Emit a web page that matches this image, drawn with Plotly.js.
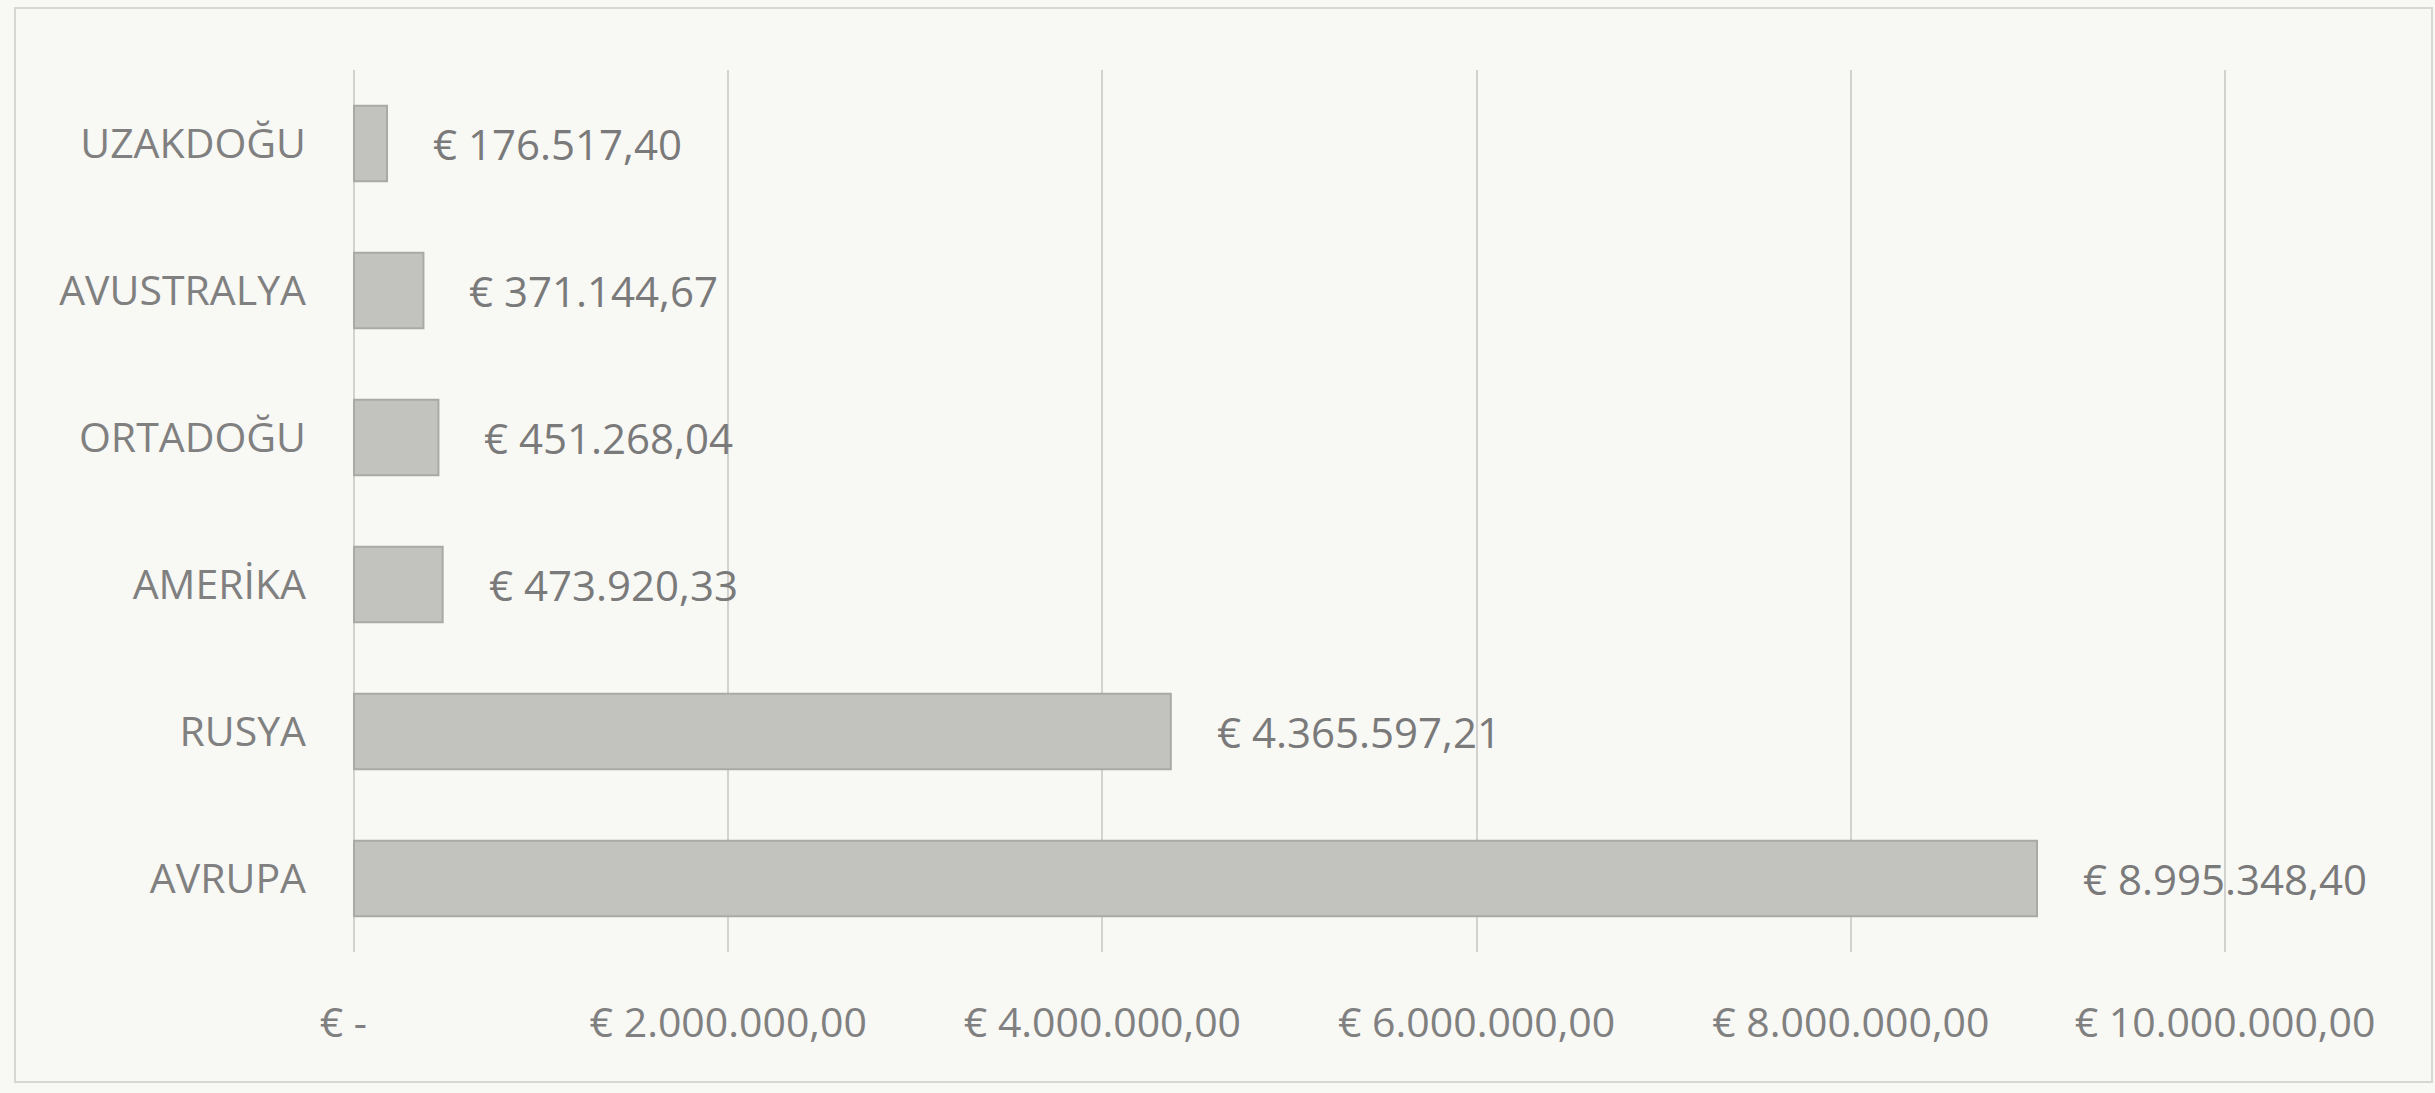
<!DOCTYPE html>
<html>
<head>
<meta charset="utf-8">
<script src="https://cdn.plot.ly/plotly-3.0.1.min.js"></script>
<style>
html,body{margin:0;padding:0;background:#f8f8f5;}
#chart{width:2435px;height:1093px;}
</style>
</head>
<body>
<div id="chart"></div>
<script>
// Data (bottom to top)
const regions = ['AVRUPA', 'RUSYA', 'AMERİKA', 'ORTADOĞU', 'AVUSTRALYA', 'UZAKDOĞU'];
const sales = [8995348.40, 4365597.21, 473920.33, 451268.04, 371144.67, 176517.40];
const tickValues = [0, 2000000, 4000000, 6000000, 8000000, 10000000];
const tickLabels = ['€ -\u00a0\u00a0', '€ 2.000.000,00', '€ 4.000.000,00', '€ 6.000.000,00', '€ 8.000.000,00', '€ 10.000.000,00'];

function fmtEuro(v) {
  const parts = v.toFixed(2).split('.');
  const intPart = parts[0].replace(/\B(?=(\d{3})+(?!\d))/g, '.');
  return '€ ' + intPart + ',' + parts[1];
}

const fontFam = '"Open Sans", "Liberation Sans", sans-serif';
const grey = '#808080';

const trace = {
  type: 'bar',
  orientation: 'h',
  y: regions,
  x: sales,
  marker: {color: '#c2c2bf', line: {color: '#a9a9a6', width: 2}},
  hoverinfo: 'none'
};

const annotations = sales.map((v, i) => ({
  x: v, y: regions[i], xref: 'x', yref: 'y',
  text: fmtEuro(v), showarrow: false,
  xanchor: 'left', yanchor: 'middle', xshift: 44,
  font: {family: fontFam, size: 42, color: '#7a7a7a'}
}));

const L = 351, R = 2435 - 2228;

const layout = {
  width: 2435, height: 1093,
  paper_bgcolor: '#f8f8f5',
  plot_bgcolor: '#f8f8f5',
  margin: {l: L, r: R, t: 70, b: 141},
  showlegend: false,
  bargap: 0.485,
  font: {family: fontFam, color: grey, size: 41},
  xaxis: {
    range: [-16000, 10016000],
    tickvals: tickValues,
    ticktext: tickLabels,
    showgrid: true, gridcolor: '#d2d2d0', gridwidth: 2,
    zeroline: false, showline: false, ticks: '',
    ticklabelstandoff: 43,
    tickfont: {family: fontFam, size: 41, color: grey},
    fixedrange: true
  },
  yaxis: {
    type: 'category',
    categoryorder: 'array', categoryarray: regions,
    showgrid: false, zeroline: false, showline: false, ticks: '',
    ticklabelstandoff: 44,
    tickfont: {family: fontFam, size: 41, color: grey},
    fixedrange: true
  },
  annotations: annotations,
  shapes: [{
    type: 'rect', xref: 'paper', yref: 'paper',
    x0: (15 - L) / (2435 - L - R), x1: (2432 - L) / (2435 - L - R),
    y0: -(1082 - 952) / 882, y1: 1 + (70 - 8) / 882,
    line: {color: '#d6d6d4', width: 2}, fillcolor: 'rgba(0,0,0,0)', layer: 'below'
  }]
};

Plotly.newPlot('chart', [trace], layout, {displayModeBar: false, staticPlot: true});
</script>
</body>
</html>
